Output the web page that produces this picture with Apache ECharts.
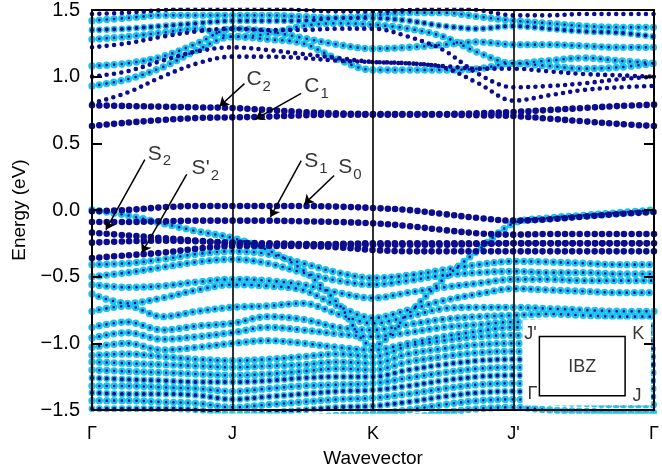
<!DOCTYPE html>
<html><head><meta charset="utf-8">
<script src="https://cdn.jsdelivr.net/npm/echarts@6/dist/echarts.min.js"></script>
<style>html,body{margin:0;padding:0;background:#fff}#c{width:662px;height:473px}</style>
</head><body><div id="c"></div>
<script>
// k-path sample positions (Γ=0, J=1, K=2, J'=3, Γ=4)
const kPoints = [0,0.25,0.5,0.75,1,1.25,1.5,1.75,2,2.25,2.5,2.75,3,3.25,3.5,3.75,4];
const kLabels = ['Γ','J','K',"J'",'Γ'];
const yTicks = [-1.5,-1.0,-0.5,0.0,0.5,1.0,1.5];

// conduction bands
const bandC2  = [0.785,0.78,0.775,0.77,0.765,0.75,0.735,0.725,0.72,0.72,0.72,0.725,0.735,0.75,0.765,0.78,0.79];
const bandC1  = [0.63,0.655,0.675,0.69,0.695,0.70,0.71,0.715,0.715,0.715,0.715,0.71,0.705,0.685,0.665,0.645,0.63];
const bandCB1 = [0.80,0.88,1.00,1.10,1.15,1.15,1.14,1.12,1.11,1.10,1.07,0.95,0.82,0.86,0.90,0.92,0.93];
const bandCB2 = [1.00,1.04,1.12,1.19,1.22,1.20,1.17,1.14,1.11,1.10,1.08,1.06,1.06,1.04,1.02,1.01,1.00];
const bandCB3 = [0.93,0.98,1.07,1.20,1.30,1.28,1.25,1.13,1.05,1.05,1.05,1.06,1.10,1.08,1.06,1.07,1.10];
const bandCB4 = [1.08,1.10,1.15,1.25,1.36,1.34,1.29,1.24,1.21,1.22,1.24,1.26,1.24,1.24,1.23,1.22,1.22];
const bandCB5 = [1.22,1.25,1.30,1.34,1.36,1.35,1.35,1.36,1.36,1.30,1.20,1.02,0.92,0.93,0.95,0.98,1.00];
const bandCB6 = [1.28,1.30,1.33,1.36,1.30,1.32,1.38,1.40,1.39,1.36,1.30,1.18,1.10,1.12,1.14,1.12,1.10];
const bandCB7 = [1.35,1.36,1.38,1.40,1.42,1.42,1.42,1.44,1.44,1.42,1.38,1.36,1.38,1.36,1.34,1.33,1.30];
const bandCB8 = [1.42,1.44,1.46,1.46,1.46,1.46,1.45,1.44,1.46,1.48,1.48,1.45,1.42,1.40,1.38,1.37,1.37];
const bandCB9 = [1.47,1.48,1.50,1.52,1.52,1.52,1.50,1.49,1.49,1.50,1.52,1.50,1.46,1.46,1.47,1.47,1.47];

// valence bands (navy, S states)
const bandS0  = [-0.01,0.0,0.02,0.03,0.03,0.03,0.03,0.025,0.015,0.0,-0.03,-0.06,-0.08,-0.07,-0.05,-0.03,-0.015];
const bandS1  = [-0.09,-0.09,-0.085,-0.08,-0.08,-0.08,-0.085,-0.09,-0.10,-0.12,-0.15,-0.175,-0.185,-0.18,-0.18,-0.18,-0.18];
const bandS2  = [-0.17,-0.19,-0.21,-0.23,-0.25,-0.26,-0.26,-0.255,-0.25,-0.25,-0.25,-0.25,-0.25,-0.25,-0.25,-0.25,-0.25];
const bandS3  = [-0.245,-0.235,-0.23,-0.235,-0.245,-0.25,-0.255,-0.26,-0.26,-0.26,-0.26,-0.255,-0.25,-0.25,-0.25,-0.25,-0.25];
const bandS2p = [-0.36,-0.34,-0.32,-0.29,-0.27,-0.27,-0.27,-0.28,-0.30,-0.31,-0.31,-0.31,-0.31,-0.31,-0.31,-0.31,-0.31];

// valence bands (cyan)
const bandV1 = [0.00,-0.04,-0.10,-0.16,-0.21,-0.30,-0.45,-0.70,-1.02,-0.78,-0.52,-0.30,-0.10,-0.06,-0.04,-0.02,0.00];
const bandV2 = [-0.41,-0.40,-0.37,-0.33,-0.31,-0.33,-0.40,-0.47,-0.51,-0.49,-0.45,-0.41,-0.385,-0.39,-0.40,-0.41,-0.41];
const bandV3 = [-0.50,-0.47,-0.43,-0.39,-0.37,-0.40,-0.47,-0.53,-0.56,-0.53,-0.49,-0.47,-0.46,-0.47,-0.47,-0.48,-0.48];
const bandV4 = [-0.56,-0.58,-0.57,-0.54,-0.52,-0.53,-0.56,-0.62,-0.66,-0.62,-0.58,-0.55,-0.52,-0.52,-0.53,-0.53,-0.53];
const bandV5 = [-0.63,-0.70,-0.66,-0.60,-0.56,-0.57,-0.60,-0.72,-0.81,-0.75,-0.68,-0.63,-0.59,-0.60,-0.61,-0.62,-0.62];
const bandV6 = [-0.76,-0.72,-0.80,-0.76,-0.73,-0.72,-0.70,-0.78,-0.85,-0.80,-0.74,-0.73,-0.73,-0.74,-0.75,-0.76,-0.76];
const bandV7 = [-0.88,-0.84,-0.90,-0.87,-0.85,-0.80,-0.82,-0.88,-0.90,-0.86,-0.82,-0.80,-0.79,-0.78,-0.79,-0.80,-0.80];
const bandV8 = [-0.96,-0.92,-0.97,-0.95,-0.92,-0.88,-0.90,-0.93,-0.95,-0.92,-0.88,-0.86,-0.84,-0.85,-0.86,-0.86,-0.87];
const bandV9 = [-1.03,-1.00,-1.05,-1.03,-1.00,-0.98,-1.00,-1.03,-1.05,-1.00,-0.95,-0.91,-0.88,-0.90,-0.91,-0.92,-0.92];
const bandD1 = [-1.09,-1.08,-1.10,-1.12,-1.13,-1.12,-1.10,-1.08,-1.10,-1.02,-0.98,-0.95,-0.94,-0.96,-0.97,-0.98,-0.98];
const bandD2 = [-1.14,-1.15,-1.16,-1.17,-1.18,-1.17,-1.16,-1.14,-1.15,-1.08,-1.04,-1.01,-1.00,-1.02,-1.03,-1.04,-1.04];
const bandD3 = [-1.20,-1.21,-1.22,-1.23,-1.24,-1.23,-1.21,-1.19,-1.20,-1.14,-1.10,-1.07,-1.06,-1.08,-1.09,-1.10,-1.10];
const bandD4 = [-1.26,-1.27,-1.28,-1.29,-1.29,-1.28,-1.26,-1.25,-1.25,-1.20,-1.16,-1.13,-1.12,-1.14,-1.15,-1.16,-1.16];
const bandD5 = [-1.32,-1.32,-1.33,-1.34,-1.36,-1.34,-1.32,-1.31,-1.30,-1.26,-1.22,-1.19,-1.18,-1.20,-1.21,-1.22,-1.22];
const bandD6 = [-1.37,-1.38,-1.38,-1.39,-1.42,-1.40,-1.38,-1.36,-1.35,-1.32,-1.28,-1.25,-1.24,-1.26,-1.27,-1.28,-1.28];
const bandD7 = [-1.43,-1.43,-1.44,-1.45,-1.48,-1.46,-1.44,-1.42,-1.41,-1.38,-1.34,-1.31,-1.30,-1.32,-1.33,-1.34,-1.34];
const bandD8 = [-1.49,-1.49,-1.49,-1.50,-1.53,-1.52,-1.50,-1.48,-1.47,-1.44,-1.40,-1.37,-1.36,-1.38,-1.39,-1.40,-1.40];
const bandD9 = [-1.56,-1.56,-1.56,-1.56,-1.56,-1.56,-1.56,-1.54,-1.53,-1.50,-1.46,-1.43,-1.42,-1.44,-1.45,-1.46,-1.46];
const bandD10= [-1.62,-1.62,-1.62,-1.62,-1.62,-1.62,-1.62,-1.60,-1.58,-1.56,-1.52,-1.49,-1.48,-1.50,-1.51,-1.52,-1.52];

// band list: [values, weight class]  N = strong navy, n = weak navy, c = cyan, m = mixed
const bandList = [
  [bandC2,'N'],[bandC1,'N'],[bandCB1,'n'],[bandCB2,'n'],[bandCB3,'c'],[bandCB4,'c'],[bandCB5,'n'],
  [bandCB6,'c'],[bandCB7,'m'],[bandCB8,'c'],[bandCB9,'n'],
  [bandS0,'N'],[bandS1,'N'],[bandS2,'N'],[bandS3,'N'],[bandS2p,'N'],
  [bandV1,'c'],[bandV2,'c'],[bandV3,'c'],[bandV4,'c'],[bandV5,'c'],[bandV6,'c'],[bandV7,'c'],[bandV8,'c'],[bandV9,'c'],
  [bandD1,'c'],[bandD2,'c'],[bandD3,'c'],[bandD4,'m'],[bandD5,'c'],[bandD6,'m'],[bandD7,'c'],[bandD8,'m'],[bandD9,'c'],[bandD10,'c']
];

// annotations
const annNames = ['C2','C1','S2',"S'2",'S1','S0'];
const annText  = [[1.099,0.978],[1.511,0.926],[0.397,0.422],[0.709,0.311],[1.511,0.363],[1.752,0.319]];
const annTail  = [[1.085,0.948],[1.489,0.874],[0.376,0.378],[0.674,0.267],[1.489,0.370],[1.723,0.259]];
const annHead  = [[0.908,0.778],[1.163,0.681],[0.099,-0.148],[0.355,-0.319],[1.270,-0.052],[1.511,0.044]];

// inset (IBZ)
const insetLabels = ["J'",'K','Γ','J','IBZ'];
const insetPos = [[3.121,-0.933],[3.887,-0.933],[3.135,-1.378],[3.879,-1.393],[3.489,-1.178]];

const CYAN = '#1cc3ee', NAVY = '#0c0c8e';
const GAP = 7.4;
const FONT = '"Liberation Sans", Arial, sans-serif';

const chart = echarts.init(document.getElementById('c'), null, {renderer:'canvas'});
const series = [];
function dotLine(vals, color, width, z){
  return {type:'line', data:kPoints.map((k,i)=>[k,vals[i]]), smooth:0.35, showSymbol:false, symbol:'none',
    silent:true, z:z, lineStyle:{color:color, width:width, type:[0,GAP], cap:'round', join:'round'}, animation:false, clip:true};
}
bandList.forEach(([v,t])=>{
  if (t==='c') series.push(dotLine(v,CYAN,7.4,2));
  if (t==='m') series.push(dotLine(v,CYAN,6.8,2));
});
bandList.forEach(([v,t])=>{
  if (t==='N') series.push(dotLine(v,NAVY,6.6,3));
  if (t==='n') series.push(dotLine(v,NAVY,4.6,3));
  if (t==='c') series.push(dotLine(v,NAVY,2.6,3));
  if (t==='m') series.push(dotLine(v,NAVY,4,3));
});
// inset box
series.push({type:'line', data:[[3.5,-1.2]], symbol:'none', silent:true, z:5, lineStyle:{opacity:0},
  markArea:{silent:true, z:5, data:[
    [{coord:[3.064,-0.822], itemStyle:{color:'#fff'}},{coord:[3.979,-1.467]}],
    [{coord:[3.184,-0.948], itemStyle:{color:'rgba(0,0,0,0)', borderColor:'#000', borderWidth:1.5}},{coord:[3.794,-1.393]}]
  ]}
});
series.push({type:'scatter', z:6, silent:true, symbolSize:0,
  data:insetPos.map((p,i)=>({value:p, label:{formatter:insetLabels[i]}})),
  label:{show:true, position:'inside', color:'#000', fontSize:18, fontFamily:FONT}
});
// arrows
series.push({type:'lines', coordinateSystem:'cartesian2d', z:6, silent:true,
  symbol:['none','arrow'], symbolSize:[0,9],
  lineStyle:{color:'#000', width:1.5, opacity:1},
  data:annTail.map((t,i)=>({coords:[t, annHead[i]]}))
});
// annotation labels
series.push({type:'scatter', z:6, silent:true, symbolSize:0,
  data:annText.map((p,i)=>{
    const n = annNames[i]; const main = n.slice(0,n.length-1); const sub = n.slice(-1);
    return {value:p, label:{formatter:'{b|'+main+'}{s|'+sub+'}'}};
  }),
  label:{show:true, position:'right', distance:0, color:'#000',
    rich:{b:{fontSize:21, fontFamily:FONT, color:'#000'}, s:{fontSize:15, fontFamily:FONT, color:'#000', padding:[14,0,0,1]}}}
});

chart.setOption({
  animation:false,
  backgroundColor:'#fff',
  grid:{left:92, right:6, top:10, bottom:57},
  xAxis:[{type:'value', min:0, max:4, interval:1, z:10,
    axisLine:{show:true, onZero:false, lineStyle:{color:'#000', width:2}},
    axisTick:{show:false},
    axisLabel:{color:'#000', fontSize:18, fontFamily:FONT, margin:15, formatter:v=>kLabels[Math.round(v)]},
    splitLine:{show:true, lineStyle:{color:'#000', width:1.6}},
    name:'Wavevector', nameLocation:'middle', nameGap:39, nameTextStyle:{color:'#000', fontSize:19, fontFamily:FONT}},
   {type:'value', min:0, max:4, position:'top', z:10,
    axisLine:{show:true, onZero:false, lineStyle:{color:'#000', width:2}},
    axisTick:{show:false}, axisLabel:{show:false}, splitLine:{show:false}}],
  yAxis:[{type:'value', min:yTicks[0], max:yTicks[yTicks.length-1], interval:0.5, z:10,
    axisLine:{show:true, onZero:false, lineStyle:{color:'#000', width:2}},
    axisTick:{show:true, inside:true, length:10, lineStyle:{color:'#000', width:2}},
    axisLabel:{color:'#000', fontSize:20, fontFamily:FONT, margin:12,
      formatter:v=>(v<0?'−':'')+Math.abs(v).toFixed(1)},
    splitLine:{show:false},
    name:'Energy (eV)', nameLocation:'middle', nameGap:62, nameTextStyle:{color:'#000', fontSize:19, fontFamily:FONT}},
   {type:'value', min:yTicks[0], max:yTicks[yTicks.length-1], interval:0.5, position:'right', z:10,
    axisLine:{show:true, onZero:false, lineStyle:{color:'#000', width:2}},
    axisTick:{show:true, inside:true, length:10, lineStyle:{color:'#000', width:2}},
    axisLabel:{show:false}, splitLine:{show:false}}],
  series:series
});
</script></body></html>
